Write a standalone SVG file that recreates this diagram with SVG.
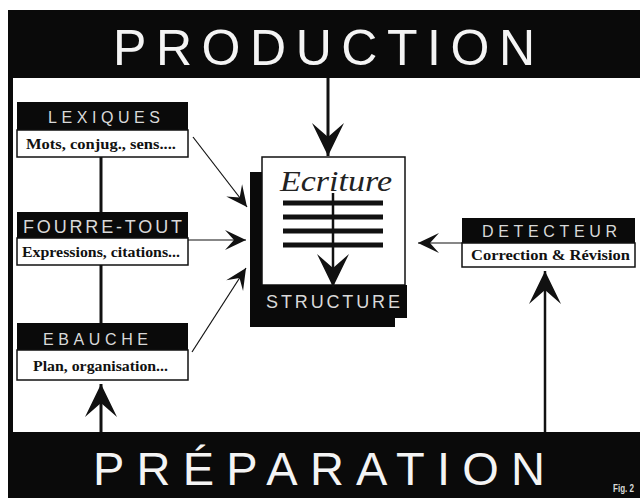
<svg xmlns="http://www.w3.org/2000/svg" width="640" height="498" viewBox="0 0 640 498">
<defs>
<style>
.band{fill:#0a0a0a}
.big{font-family:"Liberation Sans",Arial,sans-serif;fill:#f4f4f4}
.hdr{fill:#0a0a0a}
.sub{fill:#fff;stroke:#111;stroke-width:1.5}
.ht{font-family:"Liberation Sans",Arial,sans-serif;fill:#d9d9d9;text-anchor:start}
.st{font-family:"Liberation Serif","Times New Roman",serif;font-weight:bold;fill:#111;font-size:15.5px}
.thick{stroke:#111;stroke-width:3;fill:none}
.thin{stroke:#111;stroke-width:1.2;fill:none}
</style>
<marker id="bigHead" markerUnits="userSpaceOnUse" markerWidth="36" markerHeight="36" viewBox="-34 -18 36 36" refX="0" refY="0" orient="auto">
<path d="M0,0 L-33,-16 L-19,0 L-33,16 Z" fill="#111"/>
</marker>
<marker id="smallHead" markerUnits="userSpaceOnUse" markerWidth="24" markerHeight="24" viewBox="-22 -12 24 24" refX="0" refY="0" orient="auto">
<path d="M0,0 L-21,-10 L-12,0 L-21,10 Z" fill="#111"/>
</marker>
</defs>
<rect x="0" y="0" width="640" height="498" fill="#fff"/>
<g id="frame">
<rect class="band" x="8" y="10" width="632" height="68"/>
<rect class="band" x="8" y="10" width="5" height="488"/>
<rect class="band" x="8" y="432" width="632" height="66"/>
</g>
<g id="production">
<text class="big" x="113" y="65" font-size="50" textLength="422" lengthAdjust="spacing">PRODUCTION</text>
</g>
<g id="preparation">
<text class="big" x="93" y="485" font-size="47" textLength="452" lengthAdjust="spacing">PRÉPARATION</text>
<text x="613" y="492" font-family="Liberation Sans,Arial,sans-serif" font-weight="bold" font-size="10.5" fill="#d9d9d9" textLength="21" lengthAdjust="spacingAndGlyphs">Fig. 2</text>
</g>
<g id="connectors">
<line class="thick" x1="101" y1="157" x2="101" y2="212"/>
<line class="thick" x1="101" y1="265" x2="101" y2="323"/>
<line class="thick" x1="328" y1="78" x2="328" y2="156" marker-end="url(#bigHead)"/>
<line class="thick" x1="101" y1="432" x2="101" y2="384" marker-end="url(#bigHead)"/>
<line stroke="#111" stroke-width="2.5" x1="545" y1="432" x2="545" y2="271" marker-end="url(#bigHead)"/>
<line class="thin" x1="193" y1="137" x2="247" y2="207" marker-end="url(#smallHead)"/>
<line class="thin" x1="188" y1="240" x2="246" y2="240" marker-end="url(#smallHead)"/>
<line class="thin" x1="192" y1="352" x2="246" y2="268" marker-end="url(#smallHead)"/>
<line class="thin" x1="462" y1="243" x2="418" y2="243" marker-end="url(#smallHead)"/>
</g>
<g id="lexiques">
<rect class="hdr" x="17" y="102" width="171" height="28"/>
<rect class="sub" x="17" y="130" width="171" height="27"/>
<text class="ht" x="48" y="123" font-size="16" textLength="112" lengthAdjust="spacing">LEXIQUES</text>
<text class="st" x="26" y="149" textLength="150" lengthAdjust="spacingAndGlyphs">Mots, conjug., sens....</text>
</g>
<g id="fourre-tout">
<rect class="hdr" x="17" y="212" width="171" height="26"/>
<rect class="sub" x="17" y="238" width="171" height="27"/>
<text class="ht" x="23" y="233" font-size="18" textLength="159" lengthAdjust="spacing">FOURRE-TOUT</text>
<text class="st" x="22" y="257" textLength="158" lengthAdjust="spacingAndGlyphs">Expressions, citations...</text>
</g>
<g id="ebauche">
<rect class="hdr" x="17" y="323" width="171" height="27"/>
<rect class="sub" x="17" y="350" width="171" height="30"/>
<text class="ht" x="43" y="345" font-size="16" textLength="105" lengthAdjust="spacing">EBAUCHE</text>
<text class="st" x="33" y="371" textLength="135" lengthAdjust="spacingAndGlyphs">Plan, organisation...</text>
</g>
<g id="detecteur">
<rect class="hdr" x="462" y="218" width="173" height="25"/>
<rect class="sub" x="462" y="243" width="173" height="24"/>
<text class="ht" x="482" y="237" font-size="16" textLength="135" lengthAdjust="spacing">DETECTEUR</text>
<text class="st" x="471" y="260" textLength="159" lengthAdjust="spacingAndGlyphs">Correction &amp; Révision</text>
</g>
<g id="ecriture">
<rect class="band" x="250" y="172" width="145" height="155"/>
<rect fill="#fff" stroke="#111" stroke-width="1.5" x="262" y="157" width="143" height="128"/>
<rect class="band" x="262" y="285" width="145" height="33"/>
<text x="280" y="191" font-family="Liberation Serif,serif" font-style="italic" font-size="29" fill="#222" textLength="112" lengthAdjust="spacingAndGlyphs">Ecriture</text>
<g fill="#111">
<rect x="283" y="200.5" width="100" height="5"/>
<rect x="283" y="214.5" width="100" height="5"/>
<rect x="283" y="228.5" width="100" height="5"/>
<rect x="283" y="242.5" width="100" height="5"/>
</g>
<line stroke="#111" stroke-width="2.5" x1="333" y1="193" x2="333" y2="287" marker-end="url(#bigHead)"/>
<text class="ht" x="266" y="308" font-size="18" textLength="134" lengthAdjust="spacing">STRUCTURE</text>
</g>
</svg>
